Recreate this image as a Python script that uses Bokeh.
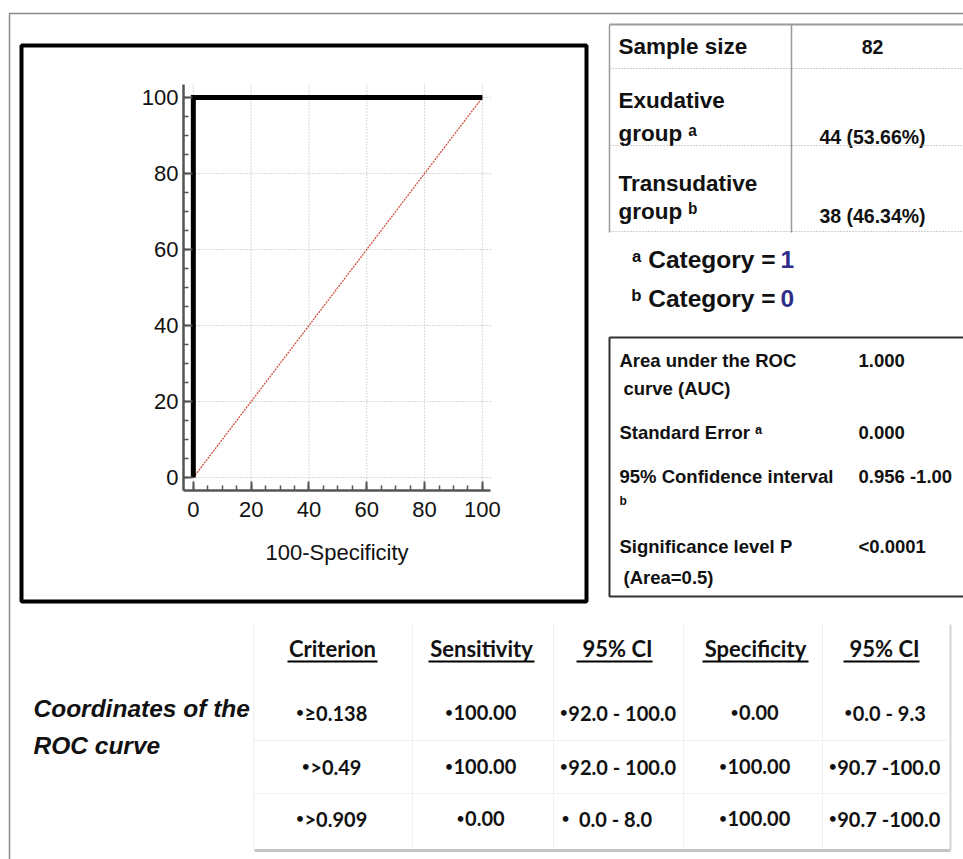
from bokeh.plotting import figure
from bokeh.models import Range1d, FixedTicker
from bokeh.core.properties import value
from bokeh.embed import file_html
from bokeh.resources import INLINE

# ---------------- data ----------------
roc_fpr = [0, 0, 100]          # 100 - specificity
roc_tpr = [0, 100, 100]        # sensitivity
ref_fpr = [0, 100]
ref_tpr = [0, 100]
axis_ticks = [0, 20, 40, 60, 80, 100]
minor_axis_ticks = list(range(0, 101, 5))
x_axis_title = "100-Specificity"

summary_labels = [["Sample size"], ["Exudative", "group ᵃ"], ["Transudative", "group ᵇ"]]
summary_values = ["82", "44 (53.66%)", "38 (46.34%)"]
category_marks = ["ᵃ Category =", "ᵇ Category ="]
category_codes = ["1", "0"]

stats_labels = [["Area under the ROC", "curve (AUC)"], ["Standard Error ᵃ"],
                ["95% Confidence interval"], ["Significance level P", "(Area=0.5)"]]
stats_values = ["1.000", "0.000", "0.956 -1.00", "<0.0001"]
stats_footnote = "b"

coord_title = ["Coordinates of the", "ROC curve"]
coord_headers = ["Criterion", "Sensitivity", "95% CI", "Specificity", "95% CI"]
coord_rows = [
    ["•≥0.138", "•100.00", "•92.0 - 100.0", "•0.00", "•0.0 - 9.3"],
    ["•>0.49", "•100.00", "•92.0 - 100.0", "•100.00", "•90.7 -100.0"],
    ["•>0.909", "•0.00", "•      0.0 - 8.0", "•100.00", "•90.7 -100.0"],
]

# ---------------- layout constants (pixel coords of the page) ----------------
W, H = 963, 859
PX0, PX1, PY0, PY1 = 183, 490, 84, 490     # ROC plot area in pixels
D0, DX1, DY1 = -3.4, 102.8, 103.4          # data extent of ROC plot area
ARIAL = "Liberation Sans"
CALIBRI = "Lato"
# approximate advance widths (em) of Lato Bold, used only to place the small bullets
LATO_W = {".": 0.25, " ": 0.193, "-": 0.32}

sx = (DX1 - D0) / (PX1 - PX0)
sy = (DY1 - D0) / (PY1 - PY0)
x_start = D0 - PX0 * sx
y_top = DY1 + PY0 * sy

p = figure(width=W, height=H,
           x_range=Range1d(x_start, x_start + W * sx),
           y_range=Range1d(y_top - H * sy, y_top),
           min_border=0, min_border_left=0, min_border_right=0,
           min_border_top=0, min_border_bottom=0,
           output_backend="svg", toolbar_location=None,
           background_fill_color="white", border_fill_color="white", outline_line_color=None)
p.extra_x_ranges = {"px": Range1d(0, W)}
p.extra_y_ranges = {"py": Range1d(H, 0)}
p.grid.visible = False

PXK = dict(x_range_name="px", y_range_name="py")


def text(x, y, t, size, font=ARIAL, style="bold", color="#111111", align="left"):
    p.text(x=[x], y=[y], text=[t], text_font=value(font), text_font_size=value(f"{size}px"),
           text_font_style=style, text_color=color, text_align=align,
           text_baseline="middle", **PXK)


def seg(x0, y0, x1, y1, color, width, dash="solid"):
    p.segment(x0=[x0], y0=[y0], x1=[x1], y1=[y1], line_color=color, line_width=width,
              line_dash=dash, **PXK)


def rect(l, t, r, b, color, width, fill=None):
    p.quad(left=[l], right=[r], top=[t], bottom=[b], fill_color=fill,
           fill_alpha=1.0 if fill else 0.0, line_color=color, line_width=width, **PXK)


def lato_width(s, size):
    return sum(LATO_W.get(c, 0.58) for c in s) * size


def bullet_cell(cx, y, s, size):
    bullet, rest = s[0], s[1:]
    if rest.startswith("  "):
        text(cx - 52, y - 1, bullet, 13, font=CALIBRI, align="center")
        text(cx - 2, y, rest.strip(), size, font=CALIBRI, align="center")
        return
    bw = 7
    w = lato_width(rest, size)
    left = cx - (bw + w) / 2
    text(left + 2.5, y - 1, bullet, 13, font=CALIBRI, align="center")
    text(left + bw, y, rest, size, font=CALIBRI, align="left")


# ---------------- decorations behind ----------------
rect(9, 13, 1010, 910, "#8a8a8a", 1.5)
rect(21, 45, 586, 601, "black", 4)

# ---------------- ROC plot ----------------
for t in axis_ticks:
    p.segment(x0=[t], y0=[D0], x1=[t], y1=[DY1], line_color="#b5b5b5", line_width=1, line_dash="1 2")
    p.segment(x0=[D0], y0=[t], x1=[DX1], y1=[t], line_color="#b5b5b5", line_width=1, line_dash="1 2")

p.line(ref_fpr, ref_tpr, line_width=1.2, line_color="#cc4433", line_dash="2 1")
p.line(roc_fpr, roc_tpr, line_width=5, line_color="black", line_join="miter")

p.xaxis.fixed_location = D0
p.yaxis.fixed_location = D0
p.xaxis.bounds = (D0, DX1)
p.yaxis.bounds = (D0, DY1)
for ax in (p.xaxis, p.yaxis):
    ax.ticker = FixedTicker(ticks=axis_ticks, minor_ticks=minor_axis_ticks)
    ax.axis_line_color = "#555555"
    ax.axis_line_width = 2.5
    ax.major_tick_line_color = "#555555"
    ax.major_tick_line_width = 2
    ax.major_tick_in = 9
    ax.major_tick_out = 0
    ax.minor_tick_line_color = "#555555"
    ax.minor_tick_line_width = 1.5
    ax.minor_tick_in = 5
    ax.minor_tick_out = 0
    ax.major_label_text_font = ARIAL
    ax.major_label_text_font_size = "22px"
    ax.major_label_text_color = "#111111"
p.xaxis.major_label_standoff = 11
p.yaxis.major_label_standoff = 5
p.xaxis.axis_label = x_axis_title
p.xaxis.axis_label_text_font = ARIAL
p.xaxis.axis_label_text_font_size = "22px"
p.xaxis.axis_label_text_font_style = "normal"
p.xaxis.axis_label_text_color = "#111111"
p.xaxis.axis_label_standoff = 20

# ---------------- summary table (top right) ----------------
seg(609, 24, 1010, 24, "#9a9a9a", 2)
seg(609, 24, 609, 232, "#9a9a9a", 1.5)
seg(791, 24, 791, 232, "#9a9a9a", 1.5)
row_lines_y = [[46], [100, 133], [183, 211]]
value_y = [46, 136, 215]
rule_y = [68, 145, 231]
for lines, ys, val, vy, ry in zip(summary_labels, row_lines_y, summary_values, value_y, rule_y):
    for txt, yy in zip(lines, ys):
        text(618, yy, txt, 22.5)
    text(872, vy, val, 19.5, align="center")
    seg(609, ry, 1010, ry, "#a0a0a0", 1, dash="1 2")

for i, (mark, code) in enumerate(zip(category_marks, category_codes)):
    yy = 259 + 39 * i
    text(775, yy, mark, 24.5, align="right")
    text(780, yy, code, 24.5, color="#2f2f8a")

# ---------------- statistics box ----------------
rect(609, 337, 1010, 596, "#333333", 2)
stat_y = [[360, 388], [432], [476], [546, 577]]
stat_x = [[619, 623], [619], [619], [619, 623]]
for lines, ys, xs, val in zip(stats_labels, stat_y, stat_x, stats_values):
    for txt, yy, xx in zip(lines, ys, xs):
        text(xx, yy, txt, 18.5)
    text(858, ys[0], val, 18.5)
text(619, 500, stats_footnote, 12)

# ---------------- coordinates table (bottom) ----------------
rect(253, 622, 950, 850, None, 0, fill="white")
seg(254, 850, 950, 850, "#c4c4c4", 3)
seg(950, 624, 950, 850, "#d4d4d4", 2)
for xs in [253, 412, 553, 683, 822]:
    seg(xs, 622, xs, 849, "#f0f0f0", 1)
for ys in [740, 793]:
    seg(253, ys, 950, ys, "#f0f0f0", 1)

for txt, yy in zip(coord_title, [708, 745]):
    text(33, yy, txt, 24.5, style="bold italic")

col_x = [332, 481, 617, 755, 884]
ul_half = [45, 53, 38, 53, 38]
ul_shift = [0, 0, -3, 0, -3]
for txt, cx, hw, sh in zip(coord_headers, col_x, ul_half, ul_shift):
    text(cx, 648, txt, 22, font=CALIBRI, align="center")
    seg(cx + sh - hw, 661, cx + sh + hw, 661, "black", 2)

row_y = [712, 766, 818]
for row, yy in zip(coord_rows, row_y):
    for txt, cx in zip(row, col_x):
        bullet_cell(cx, yy, txt, 20)

open("out.html", "w").write(file_html(p, INLINE))
